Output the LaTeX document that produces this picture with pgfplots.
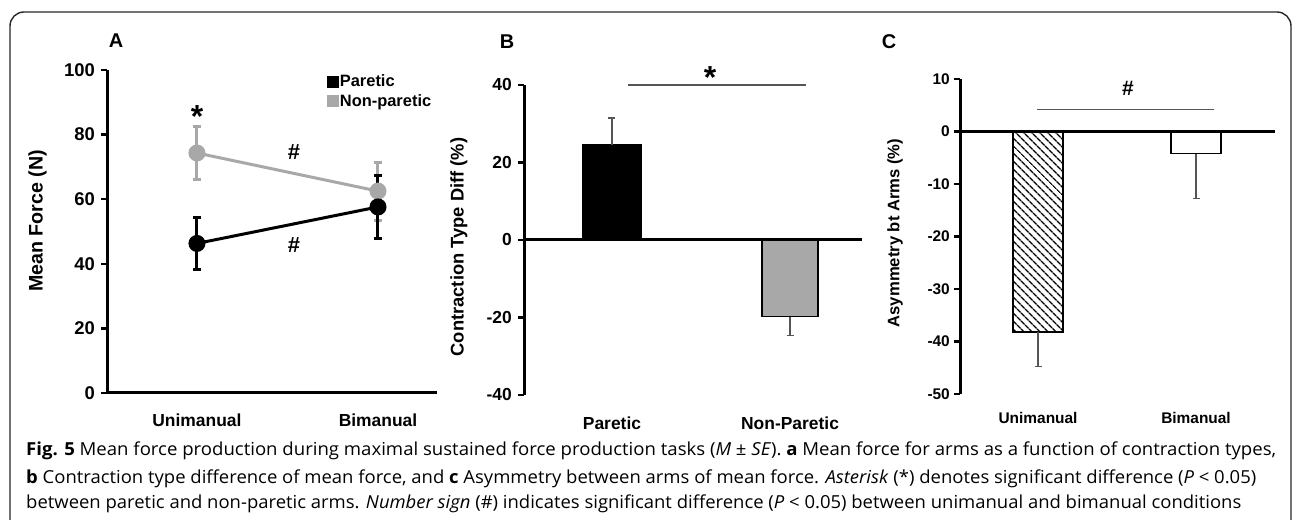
\documentclass[border=0pt]{standalone}
\usepackage{fontspec}
\setmainfont{Liberation Sans}
\newfontfamily\capfont{Open Sans}
\usepackage{graphicx}
\usepackage{pgfplots}
\pgfplotsset{compat=1.18}
\usetikzlibrary{patterns.meta}
\definecolor{npgray}{RGB}{168,168,168}
\definecolor{errgray}{RGB}{85,85,85}

\newcommand{\fs}[1]{\fontsize{#1}{#1}\selectfont\bfseries}

\pgfplotsset{
  panel/.style={
    scale only axis, anchor=south west, clip=false,
    axis x line=bottom, axis y line=left,
    axis line style={line width=3bp, -},
    tick align=outside, major tick length=6bp,
    ytick style={line width=2.5bp, black},
    xtick style={draw=none},
    xtick={0,1},
    /pgf/number format/assume math mode=true,
  },
}

\begin{document}
\begin{tikzpicture}[x=1bp, y=1bp]
\path[use as bounding box] (0,0) rectangle (1293,520);
\draw[line width=1.4bp, black!85, rounded corners=14bp] (10,-30) -- (10,508) -- (1291,508) -- (1291,-30);

% ---------- A ----------
\begin{axis}[panel, at={(107bp,127bp)}, width=330bp, height=323bp,
    xmin=-0.497, xmax=1.326, ymin=0, ymax=100, ytick={0,20,...,100},
    yticklabel style={font=\fs{18.5}, anchor=east, inner sep=0pt, xshift=-6bp},
    xticklabels={Unimanual, Bimanual},
    xticklabel style={font=\fs{17.5}, anchor=base, yshift=-28bp},
    legend style={at={(0.666,0.99)}, anchor=north west, draw=none, fill=none,
      inner sep=0pt, font=\fs{16.5}, row sep=3bp, nodes={inner sep=1.5bp}},
    legend cell align=left,
  ]
  \addlegendimage{legend image code/.code={\fill[black] (0bp,-5.5bp) rectangle (11bp,5.5bp);}}
  \addlegendentry{Paretic}
  \addlegendimage{legend image code/.code={\fill[npgray] (0bp,-5.5bp) rectangle (11bp,5.5bp);}}
  \addlegendentry{Non-paretic}
  \addplot[npgray, line width=3bp, mark=*, mark size=7bp, forget plot,
    error bars/.cd, y dir=both, y explicit,
    error bar style={line width=3bp, npgray},
    error mark options={rotate=90, mark size=4bp, line width=3bp, npgray}]
    coordinates {(0,74.3) +- (0,8.1) (1,62.5) +- (0,9.0)};
  \addplot[black, line width=3bp, mark=*, mark size=7bp, forget plot,
    error bars/.cd, y dir=both, y explicit,
    error bar style={line width=3bp, black},
    error mark options={rotate=90, mark size=4bp, line width=3bp, black}]
    coordinates {(0,46.3) +- (0,8.0) (1,57.6) +- (0,9.7)};
\end{axis}

% ---------- B ----------
\begin{axis}[panel, at={(524bp,125bp)}, width=338bp, height=310bp,
    xmin=-0.494, xmax=1.404, ymin=-40, ymax=40, ytick={-40,-20,...,40},
    x axis line style={draw=none},
    yticklabel style={font=\fs{17.5}, anchor=east, inner sep=0pt, xshift=-6bp},
    xticklabels={Paretic, Non-Paretic},
    xticklabel style={font=\fs{17.5}, anchor=base, yshift=-29bp},
  ]
  \addplot[ybar, bar width=58bp, bar shift=0pt, fill=black, draw=black, line width=1.5bp,
    error bars/.cd, y dir=plus, y explicit,
    error bar style={line width=1.5bp, errgray},
    error mark options={rotate=90, mark size=3.5bp, line width=1.5bp, errgray}]
    coordinates {(0,24.5) +- (0,7.0)};
  \addplot[ybar, bar width=56bp, bar shift=0pt, fill=npgray, draw=black, line width=1.5bp,
    error bars/.cd, y dir=minus, y explicit,
    error bar style={line width=1.5bp, errgray},
    error mark options={rotate=90, mark size=3.5bp, line width=1.5bp, errgray}]
    coordinates {(1,-19.8) +- (0,4.9)};
  \draw[line width=3bp] (axis cs:-0.494,0) -- (axis cs:1.404,0);
  \draw[line width=1.3bp, errgray] (axis cs:0.09,40) -- (axis cs:1.09,40);
\end{axis}

% ---------- C ----------
\begin{axis}[panel, at={(960bp,126bp)}, width=315bp, height=315bp,
    xmin=-0.494, xmax=1.5, ymin=-50, ymax=10, ytick={-50,-40,...,10},
    x axis line style={draw=none},
    yticklabel style={font=\fs{15.5}, anchor=east, inner sep=0pt, xshift=-4bp},
    xticklabels={Unimanual, Bimanual},
    xticklabel style={font=\fs{15.5}, anchor=base, yshift=-24bp},
  ]
  \addplot[ybar, bar width=50bp, bar shift=0pt, draw=black, line width=2bp,
    pattern={Lines[angle=-45, distance=6bp, line width=1.5bp]},
    error bars/.cd, y dir=minus, y explicit,
    error bar style={line width=1.3bp, errgray},
    error mark options={rotate=90, mark size=3.5bp, line width=1.3bp, errgray}]
    coordinates {(0,-38.1) +- (0,6.7)};
  \addplot[ybar, bar width=50bp, bar shift=0pt, fill=white, draw=black, line width=1.5bp,
    error bars/.cd, y dir=minus, y explicit,
    error bar style={line width=1.3bp, errgray},
    error mark options={rotate=90, mark size=3.5bp, line width=1.3bp, errgray}]
    coordinates {(1,-4.2) +- (0,8.6)};
  \draw[line width=3bp] (axis cs:-0.494,0) -- (axis cs:1.5,0);
  \draw[line width=1.3bp, errgray] (axis cs:-0.006,4.2) -- (axis cs:1.114,4.2);
\end{axis}

% panel letters, axis titles and marks
\node[font=\fs{20}] at (116,479) {A};
\node[font=\fs{20}] at (507,478) {B};
\node[font=\fs{20}] at (889,478) {C};
\node[font=\fs{19.7}, rotate=90] at (37.5,299) {Mean Force (N)};
\node[font=\fs{18.4}, rotate=90] at (459,273) {Contraction Type Diff (\%)};
\node[font=\fs{16.7}, rotate=90] at (895,287) {Asymmetry bt Arms (\%)};
\node[font=\fs{32}, anchor=base] at (197,392) {*};
\node[font=\fs{32}, anchor=base] at (710,431) {*};
\node[font=\fs{22}, anchor=base] at (294,360.5) {\#};
\node[font=\fs{22}, anchor=base] at (294,267.5) {\#};
\node[font=\fs{21}, anchor=base] at (1128,424.5) {\#};

% caption
\node[anchor=base west, inner sep=0pt] at (26,64) {\resizebox{1250bp}{\height}{\capfont\fontsize{18}{20}\selectfont\textbf{Fig. 5} Mean force production during maximal sustained force production tasks (\textit{M} ± \textit{SE}). \textbf{a} Mean force for arms as a function of contraction types,}};
\node[anchor=base west, inner sep=0pt] at (26,36) {\resizebox{1230bp}{\height}{\capfont\fontsize{18}{20}\selectfont\textbf{b} Contraction type difference of mean force, and \textbf{c} Asymmetry between arms of mean force. \textit{Asterisk} (*) denotes significant difference (\textit{P} < 0.05)}};
\node[anchor=base west, inner sep=0pt] at (26,11) {\resizebox{1215bp}{\height}{\capfont\fontsize{18}{20}\selectfont between paretic and non-paretic arms. \textit{Number sign} (\#) indicates significant difference (\textit{P} < 0.05) between unimanual and bimanual conditions}};
\end{tikzpicture}
\end{document}
